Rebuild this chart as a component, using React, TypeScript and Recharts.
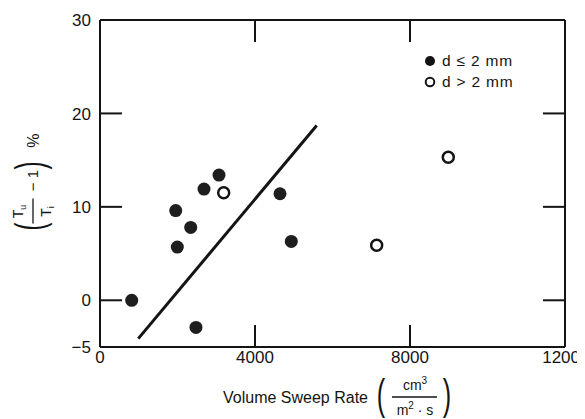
import { ScatterChart, Scatter, XAxis, YAxis, Legend } from "recharts";

const smallDropX = [818, 1954, 1995, 2341, 2684, 3071, 4645, 4937, 2477];
const smallDropY = [0, 9.6, 5.7, 7.8, 11.9, 13.4, 11.4, 6.3, -2.9];
const largeDropX = [3192, 7140, 8988];
const largeDropY = [11.5, 5.9, 15.3];
const fitX = [988, 5592];
const fitY = [-4.1, 18.7];

const xTicks = [0, 4000, 8000, 12000];
const yTicks = [-5, 0, 10, 20, 30];
const legendLabels = ["d ≤ 2 mm", "d > 2 mm"];

const toPoints = (xs: number[], ys: number[]) => xs.map((x, i) => ({ x, y: ys[i] }));
const smallDrops = toPoints(smallDropX, smallDropY);
const largeDrops = toPoints(largeDropX, largeDropY);
const fitLine = toPoints(fitX, fitY);

const INK = "#141414";
const FONT = "'Liberation Sans', Arial, Helvetica, sans-serif";
const TICK_LEN = 22;

const fmt = (v: number) => (v < 0 ? `\u2212${-v}` : `${v}`);

function BottomTick({ x, y, payload }: any) {
  const v = payload.value;
  const inner = v > 0 && v < 12000;
  const last = v === 12000;
  // the scan cuts the last label off at the page edge
  return (
    <g>
      {inner && <line x1={x} x2={x} y1={y} y2={y - TICK_LEN} stroke={INK} strokeWidth={2} />}
      <text
        x={last ? x + 15 : x}
        y={y + 4}
        dy="0.71em"
        textAnchor={last ? "end" : "middle"}
        fontSize={17}
        fill={INK}
        fontFamily={FONT}
      >
        {last ? "1200" : fmt(v)}
      </text>
    </g>
  );
}

function LeftTick({ x, y, payload }: any) {
  const v = payload.value;
  const inner = v > -5 && v < 30;
  return (
    <g>
      {inner && <line x1={x} x2={x + TICK_LEN} y1={y} y2={y} stroke={INK} strokeWidth={2} />}
      <text x={x - 9} y={y} dy="0.36em" textAnchor="end" fontSize={17} fill={INK} fontFamily={FONT}>
        {fmt(v)}
      </text>
    </g>
  );
}

function TopTick({ x, y }: any) {
  return <line x1={x} x2={x} y1={y} y2={y + TICK_LEN} stroke={INK} strokeWidth={2} />;
}

function RightTick({ x, y }: any) {
  return <line x1={x} x2={x - TICK_LEN} y1={y} y2={y} stroke={INK} strokeWidth={2} />;
}

function YTitle({ viewBox }: any) {
  const cx = viewBox.x + 25;
  const cy = viewBox.y + viewBox.height / 2 + 1;
  return (
    <g transform={`translate(${cx},${cy}) rotate(-90)`} fill={INK} fontFamily={FONT}>
      <text transform="translate(-42,11) scale(0.6,1)" fontSize={40} textAnchor="middle">(</text>
      <text x={-27} y={-10} fontSize={14} textAnchor="middle">
        T<tspan fontSize={9} dy={3}>u</tspan>
      </text>
      <line x1={-39} x2={-14} y1={0} y2={0} stroke={INK} strokeWidth={1.3} />
      <text x={-27} y={18} fontSize={14} textAnchor="middle">
        T<tspan fontSize={9} dy={3}>i</tspan>
      </text>
      <text x={4} y={5} fontSize={15} textAnchor="middle">{"\u2212 1"}</text>
      <text transform="translate(19,11) scale(0.6,1)" fontSize={40} textAnchor="middle">)</text>
      <text x={44} y={6} fontSize={16} textAnchor="middle">%</text>
    </g>
  );
}

function XTitle({ viewBox }: any) {
  const x0 = viewBox.x;
  const y0 = viewBox.y;
  return (
    <g fill={INK} fontFamily={FONT}>
      <text x={x0 + 123} y={y0 + 56} fontSize={16}>Volume Sweep Rate</text>
      <text transform={`translate(${x0 + 281},${y0 + 62}) scale(0.6,1)`} fontSize={42} textAnchor="middle">(</text>
      <text x={x0 + 315} y={y0 + 43} fontSize={14} textAnchor="middle">
        cm<tspan fontSize={10} dy={-6}>3</tspan>
      </text>
      <line x1={x0 + 292} x2={x0 + 337} y1={y0 + 50} y2={y0 + 50} stroke={INK} strokeWidth={1.3} />
      <text x={x0 + 315} y={y0 + 68} fontSize={14} textAnchor="middle">
        m<tspan fontSize={10} dy={-6}>2</tspan>
        <tspan dy={6}>{" \u00b7 s"}</tspan>
      </text>
      <text transform={`translate(${x0 + 347},${y0 + 62}) scale(0.6,1)`} fontSize={42} textAnchor="middle">)</text>
    </g>
  );
}

function LegendBox() {
  return (
    <div style={{ fontFamily: FONT, fontSize: 15.5, letterSpacing: 0.8, color: INK, lineHeight: "21px" }}>
      {legendLabels.map((label, i) => (
        <div key={label} style={{ display: "flex", alignItems: "center", height: 21 }}>
          <svg width={14} height={14} style={{ marginRight: 5 }}>
            {i === 0 ? (
              <circle cx={7} cy={7} r={5} fill={INK} />
            ) : (
              <circle cx={7} cy={7} r={4.3} fill="#fff" stroke={INK} strokeWidth={2} />
            )}
          </svg>
          <span>{label}</span>
        </div>
      ))}
    </div>
  );
}

const FilledDot = ({ cx, cy }: any) => <circle cx={cx} cy={cy} r={6.5} fill="#1e1e1e" />;
const OpenDot = ({ cx, cy }: any) => (
  <circle cx={cx} cy={cy} r={5.5} fill="#fff" stroke={INK} strokeWidth={2.5} />
);
const NoDot = () => <g />;

export default function App() {
  return (
    <ScatterChart width={577} height={411} margin={{ top: 11, right: 19, bottom: 0, left: 0 }}>
      <XAxis
        type="number"
        dataKey="x"
        domain={[0, 12000]}
        allowDataOverflow
        ticks={xTicks}
        interval={0}
        height={72}
        tickSize={0}
        tickMargin={0}
        tickLine={false}
        tick={BottomTick}
        axisLine={{ stroke: INK, strokeWidth: 2 }}
        label={<XTitle />}
      />
      <XAxis
        xAxisId="top"
        orientation="top"
        type="number"
        dataKey="x"
        domain={[0, 12000]}
        allowDataOverflow
        ticks={[4000, 8000]}
        interval={0}
        height={1}
        tickSize={0}
        tickMargin={0}
        tickLine={false}
        tick={TopTick}
        axisLine={{ stroke: INK, strokeWidth: 2 }}
      />
      <YAxis
        type="number"
        dataKey="y"
        domain={[-5, 30]}
        allowDataOverflow
        ticks={yTicks}
        interval={0}
        width={92}
        tickSize={0}
        tickMargin={0}
        tickLine={false}
        tick={LeftTick}
        axisLine={{ stroke: INK, strokeWidth: 2 }}
        label={<YTitle />}
      />
      <YAxis
        yAxisId="right"
        orientation="right"
        type="number"
        dataKey="y"
        domain={[-5, 30]}
        allowDataOverflow
        ticks={[0, 10, 20]}
        interval={0}
        width={1}
        tickSize={0}
        tickMargin={0}
        tickLine={false}
        tick={RightTick}
        axisLine={{ stroke: INK, strokeWidth: 2 }}
      />
      <Legend
        layout="vertical"
        align="center"
        verticalAlign="middle"
        content={<LegendBox />}
        wrapperStyle={{ left: 415, top: 42, width: "auto" }}
      />
      <Scatter
        name="fit"
        data={fitLine}
        line={{ stroke: INK, strokeWidth: 3 }}
        shape={NoDot}
        legendType="none"
        isAnimationActive={false}
      />
      <Scatter name={legendLabels[0]} data={smallDrops} shape={FilledDot} isAnimationActive={false} />
      {/* same domain and range as the main axes; attached here so the frame axes get drawn */}
      <Scatter
        name={legendLabels[1]}
        data={largeDrops}
        xAxisId="top"
        yAxisId="right"
        shape={OpenDot}
        isAnimationActive={false}
      />
    </ScatterChart>
  );
}
